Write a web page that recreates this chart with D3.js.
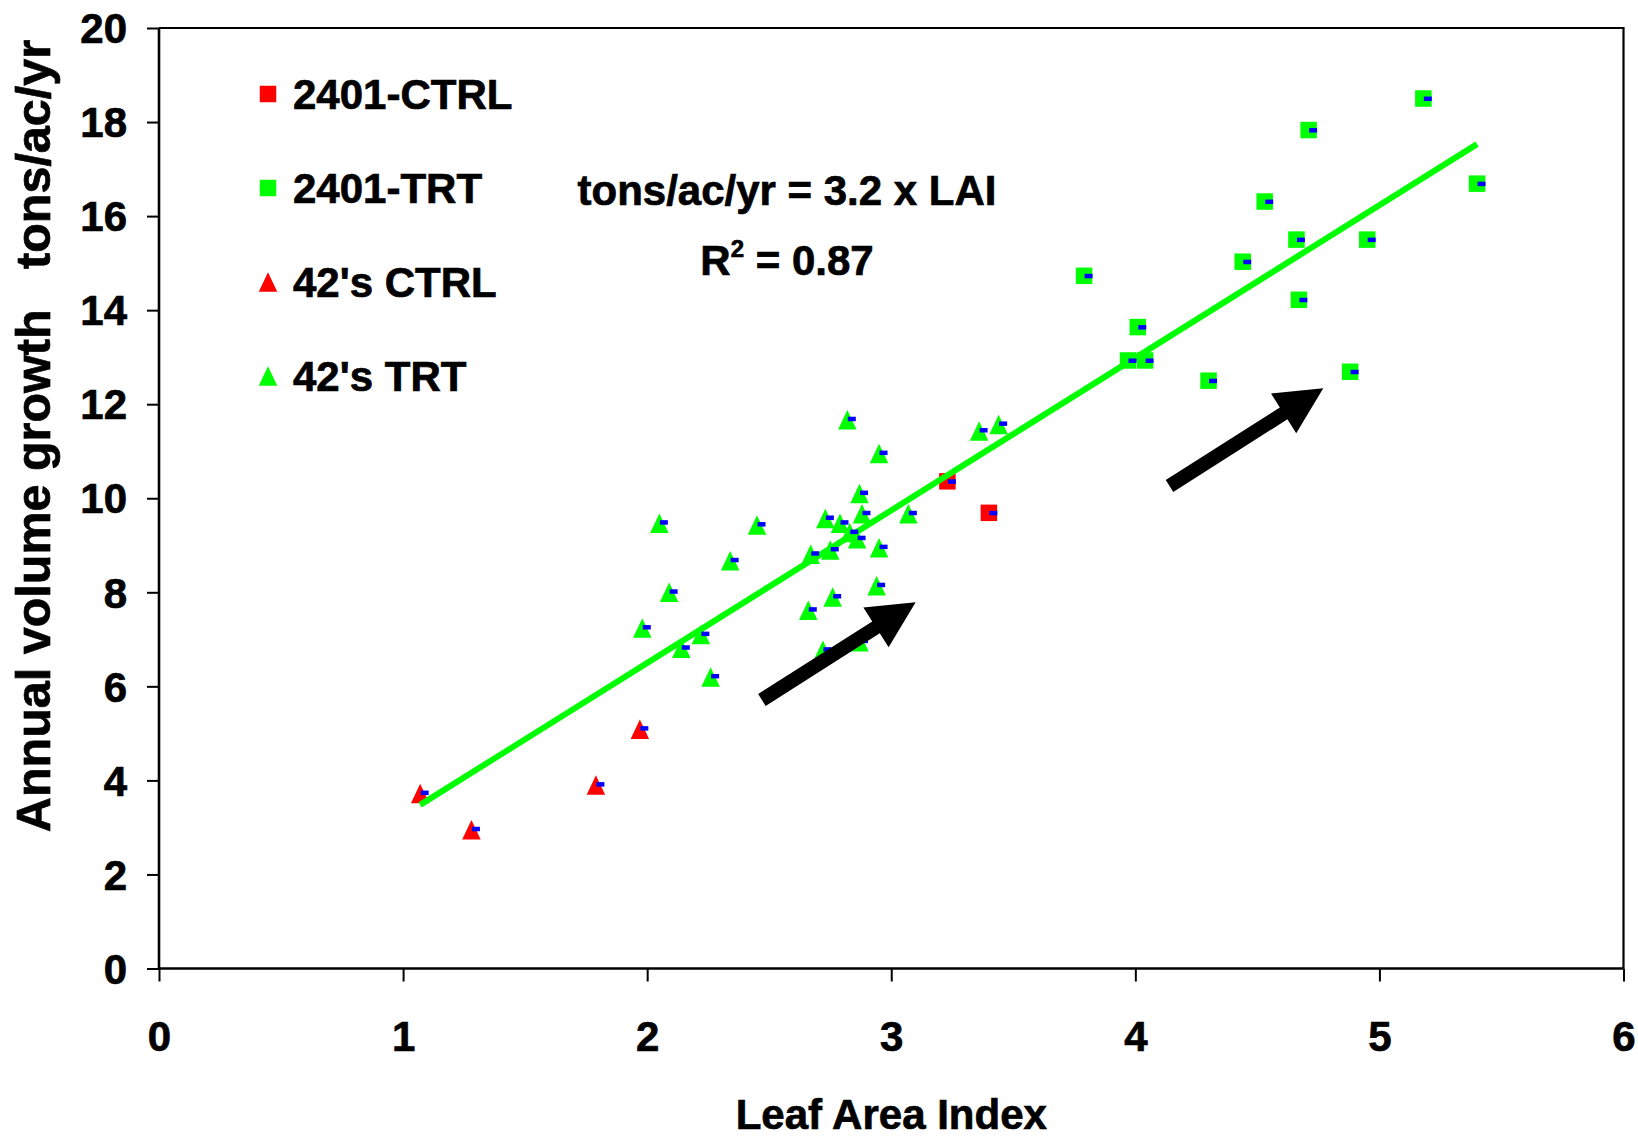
<!DOCTYPE html>
<html>
<head>
<meta charset="utf-8">
<script src="https://cdn.jsdelivr.net/npm/d3@7"></script>
<style>
  html, body { margin: 0; padding: 0; background: #fff; }
  svg { display: block; }
  text { font-family: "Liberation Sans", Arial, sans-serif; font-weight: bold; fill: #000; stroke: #000; stroke-width: 0.7px; }
</style>
</head>
<body>
<svg id="chart" width="1638" height="1138"></svg>
<script>
// ---------------- data ----------------
const xTicks = [0, 1, 2, 3, 4, 5, 6];
const yTicks = [0, 2, 4, 6, 8, 10, 12, 14, 16, 18, 20];

const seriesNames = ["2401-CTRL", "2401-TRT", "42's CTRL", "42's TRT"];

const ctrl2401X = [3.23, 3.40];
const ctrl2401Y = [10.36, 9.69];

const trt2401X = [3.79, 5.18, 4.71, 5.40, 4.53, 4.66, 4.95, 4.44, 4.67, 4.01, 3.97, 4.04, 4.30, 4.88];
const trt2401Y = [14.73, 18.50, 17.83, 16.69, 16.31, 15.50, 15.50, 15.03, 14.22, 13.64, 12.93, 12.93, 12.50, 12.69];

const ctrl42X = [1.07, 1.28, 1.79, 1.97];
const ctrl42Y = [3.72, 2.95, 3.90, 5.09];

const trt42X = [2.82, 3.36, 3.44, 2.95, 2.87, 2.88, 3.07, 2.05, 2.45, 2.73, 2.79, 2.83, 2.86, 2.95,
                2.34, 2.67, 2.75, 2.09, 2.94, 2.76, 2.66, 1.98, 2.22, 2.14, 2.26, 2.72, 2.87];
const trt42Y = [11.67, 11.43, 11.57, 10.95, 10.10, 9.67, 9.67, 9.47, 9.43, 9.57, 9.47, 9.27, 9.14, 8.95,
                8.67, 8.81, 8.90, 8.00, 8.14, 7.90, 7.62, 7.24, 7.10, 6.81, 6.20, 6.77, 6.95];

// fitted trend line end points (LAI, tons/ac/yr)
const trendX = [1.07, 5.40];
const trendY = [3.48, 17.53];

// annotation arrows in data units
const arrowTailX = [2.47, 4.14];
const arrowTailY = [5.71, 10.26];
const arrowTipX = [3.10, 4.77];
const arrowTipY = [7.79, 12.34];

const equationText = "tons/ac/yr = 3.2 x LAI";
const r2Value = "0.87";
const xTitle = "Leaf Area Index";
const yTitle = "Annual volume growth   tons/ac/yr";

// ---------------- layout ----------------
const W = 1638, H = 1138;
const mLeft = 159, mRight = 1623.5, mTop = 28, mBottom = 968.5;

const svg = d3.select("#chart");
svg.append("rect").attr("width", W).attr("height", H).attr("fill", "#fff");

const x = d3.scaleLinear().domain([0, 6]).range([mLeft, mRight]);
const y = d3.scaleLinear().domain([0, 20]).range([mBottom, mTop]);

const RED = "#ff0000", GREEN = "#00ff00", BLUE = "#0000ff";

// frame (top and right)
svg.append("path")
  .attr("d", `M${mLeft},${mTop}H${mRight}V${mBottom}`)
  .attr("fill", "none").attr("stroke", "#000").attr("stroke-width", 2.2);

// axes
const xAxis = d3.axisBottom(x).tickValues(xTicks).tickSize(13).tickPadding(10).tickFormat(d3.format("d"));
const yAxis = d3.axisLeft(y).tickValues(yTicks).tickSize(12).tickPadding(20).tickFormat(d3.format("d"));

const gx = svg.append("g").attr("transform", `translate(0,${mBottom})`).call(xAxis);
const gy = svg.append("g").attr("transform", `translate(${mLeft},0)`).call(yAxis);

[gx, gy].forEach(g => {
  g.select(".domain").attr("stroke", "#000").attr("stroke-width", 2.6);
  g.selectAll(".tick line").attr("stroke", "#000").attr("stroke-width", 2);
  g.selectAll(".tick text")
    .style("font-family", '"Liberation Sans", Arial, sans-serif')
    .style("font-weight", "bold")
    .style("font-size", "42px")
    .attr("fill", "#000");
});
gx.select(".domain").attr("d", `M${mLeft},0H${mRight}`);
gy.select(".domain").attr("d", `M0,${mTop}V${mBottom}`);
gx.selectAll(".tick text").attr("dy", null).attr("y", 82);
gy.selectAll(".tick text").attr("x", -32).attr("dy", "0.35em");

// markers
function squarePath(s) { return `M${-s/2},${-s/2}h${s}v${s}h${-s}Z`; }
function trianglePath(w, h) { return `M0,${-h/2}L${w/2},${h/2}L${-w/2},${h/2}Z`; }

const groups = [
  { xs: ctrl2401X, ys: ctrl2401Y, color: RED, shape: "sq" },
  { xs: trt2401X, ys: trt2401Y, color: GREEN, shape: "sq" },
  { xs: ctrl42X, ys: ctrl42Y, color: RED, shape: "tri" },
  { xs: trt42X, ys: trt42Y, color: GREEN, shape: "tri" }
];

const markerLayer = svg.append("g");
groups.forEach(gp => {
  const pts = gp.xs.map((v, i) => [v, gp.ys[i]]);
  markerLayer.selectAll(null).data(pts).enter().append("path")
    .attr("transform", d => `translate(${x(d[0])},${y(d[1])})`)
    .attr("d", gp.shape === "sq" ? squarePath(16.5) : trianglePath(18.5, 19.5))
    .attr("fill", gp.color);
});

// trend line
svg.append("path")
  .datum(trendX.map((v, i) => [v, trendY[i]]))
  .attr("d", d3.line().x(d => x(d[0])).y(d => y(d[1])))
  .attr("fill", "none").attr("stroke", GREEN).attr("stroke-width", 6);

// blue dash markers
const dashLayer = svg.append("g");
groups.forEach(gp => {
  const pts = gp.xs.map((v, i) => [v, gp.ys[i]]);
  dashLayer.selectAll(null).data(pts).enter().append("rect")
    .attr("x", d => x(d[0]) + 0.5)
    .attr("y", d => y(d[1]) - (gp.shape === "sq" ? 2 : 3))
    .attr("width", 8).attr("height", 4.5)
    .attr("fill", BLUE);
});

// arrows
function arrowPath(x0, y0, x1, y1) {
  const dx = x1 - x0, dy = y1 - y0, L = Math.hypot(dx, dy);
  const ux = dx / L, uy = dy / L, nx = -uy, ny = ux;
  const sw = 7, hl = 47, hw = 23.5;
  const bx = x1 - ux * hl, by = y1 - uy * hl;
  const p = [
    [x0 + nx * sw, y0 + ny * sw],
    [bx + nx * sw, by + ny * sw],
    [bx + nx * hw, by + ny * hw],
    [x1, y1],
    [bx - nx * hw, by - ny * hw],
    [bx - nx * sw, by - ny * sw],
    [x0 - nx * sw, y0 - ny * sw]
  ];
  return "M" + p.map(q => q.join(",")).join("L") + "Z";
}
arrowTailX.forEach((v, i) => {
  svg.append("path")
    .attr("d", arrowPath(x(v), y(arrowTailY[i]), x(arrowTipX[i]), y(arrowTipY[i])))
    .attr("fill", "#000");
});

// legend
const legendShapes = ["sq", "sq", "tri", "tri"];
const legendColors = [RED, GREEN, RED, GREEN];
const legendY = [94, 188, 282, 376];
seriesNames.forEach((name, i) => {
  svg.append("path")
    .attr("transform", `translate(268,${legendY[i]})`)
    .attr("d", legendShapes[i] === "sq" ? squarePath(16.5) : trianglePath(18.5, 19.5))
    .attr("fill", legendColors[i]);
  svg.append("text")
    .attr("x", 293).attr("y", legendY[i]).attr("dy", "0.35em")
    .style("font-size", "42px")
    .text(name);
});

// equation
svg.append("text")
  .attr("x", 787).attr("y", 205).attr("text-anchor", "middle")
  .style("font-size", "42px").text(equationText);
const r2 = svg.append("text")
  .attr("x", 787).attr("y", 275).attr("text-anchor", "middle")
  .style("font-size", "42px");
r2.append("tspan").text("R");
r2.append("tspan").attr("dy", -18).style("font-size", "24px").text("2");
r2.append("tspan").attr("dy", 18).text(" = " + r2Value);

// axis titles
svg.append("text")
  .attr("x", (mLeft + mRight) / 2).attr("y", 1129).attr("text-anchor", "middle")
  .style("font-size", "42px").text(xTitle);
svg.append("text")
  .attr("transform", "translate(50,436) rotate(-90)")
  .attr("text-anchor", "middle")
  .style("font-size", "48.5px").style("white-space", "pre")
  .text(yTitle);
</script>
</body>
</html>
